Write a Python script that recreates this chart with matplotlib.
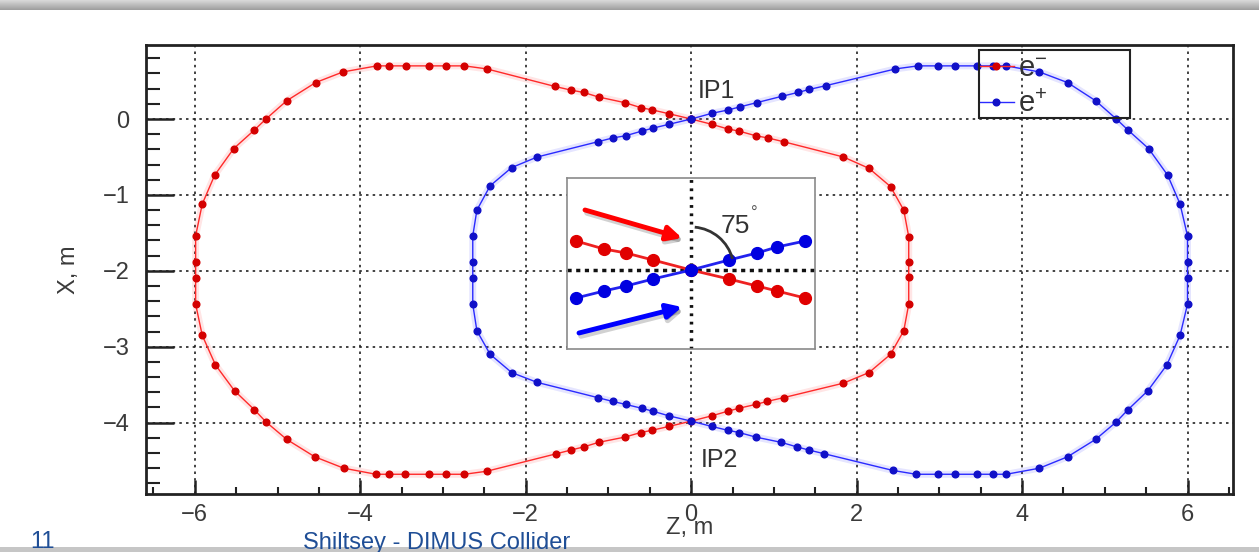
import numpy as np
import matplotlib
matplotlib.use('Agg')
import matplotlib.pyplot as plt
from matplotlib.patches import Arc, Rectangle
from matplotlib.ticker import MultipleLocator

plt.rcParams['font.family'] = ['Liberation Sans', 'DejaVu Sans']
plt.rcParams['mathtext.fontset'] = 'custom'
plt.rcParams['mathtext.rm'] = 'Liberation Sans'

# electron orbit (Z, X in metres)
red_z = [0.00, -0.27, -0.47, -0.61, -0.80, -1.12, -1.30, -1.45, -1.65, -2.47,
         -2.74, -2.96, -3.17, -3.45, -3.65, -3.80, -4.21, -4.54, -4.89, -5.14,
         -5.28, -5.53, -5.76, -5.91, -5.99, -5.99, -5.99, -5.99, -5.91, -5.75,
         -5.52, -5.28, -5.14, -4.89, -4.55, -4.20, -3.81, -3.65, -3.46, -3.17,
         -2.96, -2.74, -2.47, -1.63, -1.45, -1.30, -1.12, -0.80, -0.61, -0.47,
         -0.27, 0.00, 0.25, 0.44, 0.58, 0.78, 0.92, 1.12, 1.84, 2.15,
         2.41, 2.57, 2.63, 2.63, 2.63, 2.63, 2.57, 2.41, 2.15, 1.84,
         1.12, 0.93, 0.78, 0.58, 0.44, 0.25, 0.00]
red_x = [0.00, 0.07, 0.12, 0.15, 0.215, 0.29, 0.35, 0.38, 0.43, 0.66,
         0.70, 0.70, 0.70, 0.70, 0.70, 0.70, 0.62, 0.48, 0.24, 0.00,
         -0.145, -0.39, -0.74, -1.12, -1.54, -1.88, -2.10, -2.44, -2.85, -3.24,
         -3.58, -3.83, -3.99, -4.22, -4.45, -4.60, -4.68, -4.68, -4.68, -4.68,
         -4.68, -4.68, -4.64, -4.41, -4.36, -4.32, -4.26, -4.19, -4.13, -4.10,
         -4.05, -3.98, -3.91, -3.85, -3.81, -3.76, -3.72, -3.67, -3.48, -3.34,
         -3.10, -2.79, -2.44, -2.08, -1.89, -1.55, -1.20, -0.89, -0.65, -0.50,
         -0.30, -0.25, -0.22, -0.16, -0.13, -0.07, 0.00]

# positron orbit
blue_z = [0.00, 0.25, 0.45, 0.59, 0.79, 1.10, 1.29, 1.43, 1.63, 2.47,
          2.74, 2.98, 3.19, 3.46, 3.65, 3.81, 4.21, 4.55, 4.89, 5.14,
          5.28, 5.53, 5.76, 5.91, 6.00, 6.00, 6.00, 6.00, 5.91, 5.75,
          5.52, 5.28, 5.14, 4.89, 4.55, 4.21, 3.81, 3.65, 3.46, 3.19,
          2.98, 2.72, 2.44, 1.61, 1.42, 1.28, 1.09, 0.78, 0.58, 0.44,
          0.25, 0.00, -0.27, -0.46, -0.60, -0.79, -0.95, -1.13, -1.86, -2.17,
          -2.43, -2.59, -2.64, -2.64, -2.64, -2.64, -2.59, -2.43, -2.17, -1.86,
          -1.13, -0.95, -0.79, -0.60, -0.46, -0.27, 0.00]
blue_x = [0.00, 0.075, 0.12, 0.16, 0.215, 0.30, 0.35, 0.39, 0.44, 0.66,
          0.70, 0.70, 0.70, 0.70, 0.70, 0.70, 0.62, 0.48, 0.24, 0.00,
          -0.145, -0.39, -0.74, -1.12, -1.54, -1.88, -2.10, -2.44, -2.85, -3.24,
          -3.58, -3.83, -3.99, -4.22, -4.45, -4.60, -4.68, -4.68, -4.68, -4.68,
          -4.68, -4.68, -4.63, -4.41, -4.36, -4.32, -4.26, -4.19, -4.13, -4.10,
          -4.05, -3.98, -3.91, -3.85, -3.81, -3.76, -3.72, -3.67, -3.47, -3.34,
          -3.10, -2.79, -2.44, -2.10, -1.88, -1.54, -1.20, -0.88, -0.64, -0.50,
          -0.30, -0.25, -0.22, -0.16, -0.12, -0.07, 0.00]

# close-up of the crossing (arbitrary units)
zoom_z = [-115, -87, -65, -38, 0, 38, 66, 86, 114]
zoom_red = [29, 21, 17, 10, 0, -9, -16, -21, -28]
zoom_blue = [-28, -21, -16, -9, 0, 10, 17, 23, 29]
crossing_angle = 75

W, H = 1259, 552
fig = plt.figure(figsize=(W / 100, H / 100), dpi=100)

# slide header / footer bars
top = fig.add_axes([0, 1 - 10 / H, 1, 10 / H])
top.imshow(np.linspace(0.85, 0.62, 20).reshape(-1, 1), cmap='gray', vmin=0, vmax=1,
           aspect='auto', extent=[0, 1, 0, 1])
top.axis('off')

fig.patches.append(Rectangle((0, 0), 1, 5 / H, transform=fig.transFigure,
                             facecolor='#c6c6c6', edgecolor='none', zorder=1))
fig.text(30 / W, 1 - 548 / H, '11', fontsize=17, color='#1f4e96',
         va='baseline', zorder=3)
fig.text(303 / W, 1 - 549 / H, 'Shiltsey - DIMUS Collider', fontsize=17,
         color='#1f4e96', va='baseline', zorder=3,
         family=['Liberation Sans Narrow', 'Liberation Sans', 'DejaVu Sans'])

L, R, T, B = 146, 1233, 45, 494
ax = fig.add_axes([L / W, 1 - B / H, (R - L) / W, (B - T) / H])

for z, x, c, cm in [(red_z, red_x, '#ff2a2a', '#d40000'),
                    (blue_z, blue_x, '#2a2aff', '#1010c8')]:
    ax.plot(z, x, '-', color=c, lw=5, alpha=0.12, zorder=2)
    ax.plot(z, x, '-', color=c, lw=1.0, marker='o', ms=4.8,
            mfc=cm, mec=cm, zorder=3)

ax.set_xlim(-6.59, 6.55)
ax.set_ylim(-4.94, 0.975)
ax.xaxis.set_major_locator(MultipleLocator(2))
ax.xaxis.set_minor_locator(MultipleLocator(0.5))
ax.yaxis.set_major_locator(MultipleLocator(1))
ax.yaxis.set_minor_locator(MultipleLocator(0.2))
ax.tick_params(which='both', direction='in', top=False, right=False,
               labelsize=17, labelcolor='#3a3a3a', color='#222')
ax.tick_params(axis='x', which='major', length=10, width=1.8, pad=7)
ax.tick_params(axis='x', which='minor', length=5, width=1.5)
ax.tick_params(axis='y', which='major', length=20, width=1.8, pad=12)
ax.tick_params(axis='y', which='minor', length=10, width=1.5)
for s in ax.spines.values():
    s.set_linewidth(2)
    s.set_color('#222')
ax.grid(True, which='major', color='#222', lw=1.2, ls=(0, (1.5, 2.5)), zorder=1)

ax.set_ylabel('X, m', fontsize=17, color='#3a3a3a')
ax.yaxis.set_label_coords((80 - L) / (R - L), 0.5)
ax.text(0.5005, (B - 528) / (B - T), 'Z, m', transform=ax.transAxes,
        fontsize=17, color='#3a3a3a', ha='center', va='center')

ax.text(0.085, 0.277, 'IP1', fontsize=18, color='#333', va='baseline')
ax.text(0.12, -4.585, 'IP2', fontsize=18, color='#333', va='baseline')

# legend (transparent ROOT-style box)
lx0, lx1 = (979 - L) / (R - L), (1130 - L) / (R - L)
ly0, ly1 = (B - 118) / (B - T), (B - 50) / (B - T)
ax.add_patch(Rectangle((lx0, ly0), lx1 - lx0, ly1 - ly0, transform=ax.transAxes,
                       fill=False, edgecolor='#222', lw=1.5, zorder=6))
h_red, = ax.plot([], [], '-', color='#ff2a2a', lw=1.0, marker='o', ms=4.8,
                 mfc='#d40000', mec='#d40000')
h_blue, = ax.plot([], [], '-', color='#2a2aff', lw=1.0, marker='o', ms=4.8,
                  mfc='#1010c8', mec='#1010c8')
ax.legend([h_red, h_blue], ['e$^{-}$', 'e$^{+}$'], loc='upper left',
          bbox_to_anchor=(lx0 - 0.019, ly1 + 0.035), frameon=False, fontsize=21,
          handlelength=1.2, handletextpad=0.15, labelspacing=0.25, borderpad=0.2,
          numpoints=1, labelcolor='#333')

# inset: beams at the interaction point
ins = fig.add_axes([567 / W, 1 - 349 / H, 248 / W, 171 / H])
ins.set_xlim(-124, 124)
ins.set_ylim(-79, 92)
ins.set_xticks([])
ins.set_yticks([])
for s in ins.spines.values():
    s.set_color('#8a8a8a')
    s.set_linewidth(1.2)
ins.axvline(0, color='#111', lw=2.5, ls=(0, (0.8, 1.6)), zorder=1)
ins.axhline(0, color='#111', lw=2.5, ls=(0, (1.2, 1.3)), zorder=1)
ins.plot(zoom_z, zoom_red, '-', color='#ee2222', lw=2, marker='o', ms=8.5,
         mfc='#e00000', mec='#e00000', zorder=3)
ins.plot(zoom_z, zoom_blue, '-', color='#2222ee', lw=2, marker='o', ms=8.5,
         mfc='#0000e0', mec='#0000e0', zorder=4)

for (x0, y0), (x1, y1), c in [((-106, 60), (-9, 32), '#ff0000'),
                              ((-112, -63), (-9, -37), '#0000ff')]:
    ins.annotate('', xy=(x1 + 2, y1 - 3), xytext=(x0 + 2, y0 - 3),
                 arrowprops=dict(arrowstyle='-|>', color='#000', alpha=0.18,
                                 lw=4, mutation_scale=22, shrinkA=0, shrinkB=0),
                 zorder=4)
    ins.annotate('', xy=(x1, y1), xytext=(x0, y0),
                 arrowprops=dict(arrowstyle='-|>', color=c, lw=3.5,
                                 mutation_scale=22, shrinkA=0, shrinkB=0),
                 zorder=5)

ins.add_patch(Arc((0, 0), 86, 86, theta1=90 - crossing_angle, theta2=85,
                  color='#333', lw=2, zorder=5))
ins.text(30, 44, f'{crossing_angle}', fontsize=19, color='#333', va='center')
ins.text(60, 64, '°', fontsize=12, color='#555', va='top')

fig.savefig('out.png', dpi=100)
